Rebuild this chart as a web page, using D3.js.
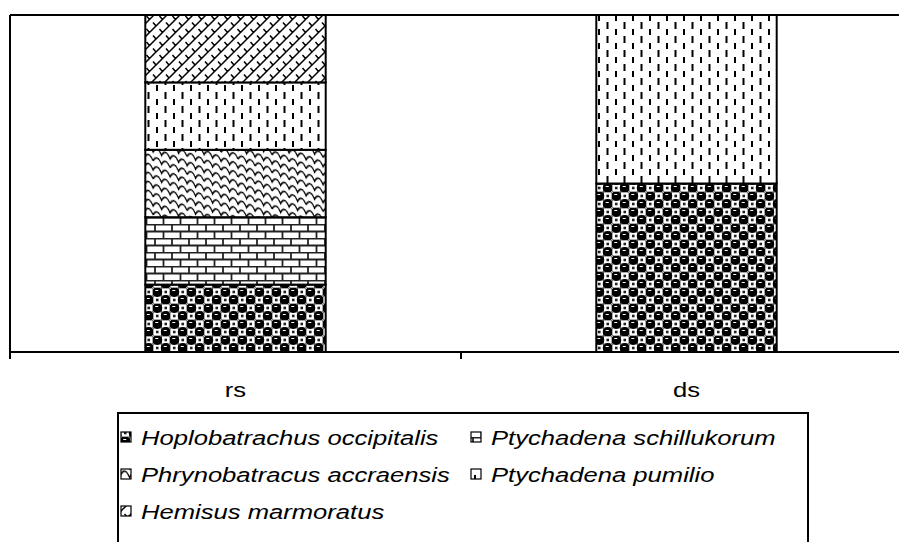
<!DOCTYPE html>
<html>
<head>
<meta charset="utf-8">
<style>
  body { margin: 0; background: #fff; }
  svg { font-family: "Liberation Sans", Arial, sans-serif; }
</style>
</head>
<body>
<script src="https://d3js.org/d3.v7.min.js"></script>
<div id="chart"></div>
<script>
// categories and species (bottom to top of each stack)
var sites = ["rs", "ds"];
var species = ["Hoplobatrachus occipitalis", "Ptychadena schillukorum",
               "Phrynobatracus accraensis", "Ptychadena pumilio", "Hemisus marmoratus"];
// percent of each site's catch, per species
var hoplobatrachus = [20, 50];
var schillukorum   = [20, 0];
var phrynobatracus = [20, 0];
var pumilio        = [20, 50];
var hemisus        = [20, 0];

var seriesValues = [hoplobatrachus, schillukorum, phrynobatracus, pumilio, hemisus];
var patternIds = ["pDots", "pBrick", "pScale", "pDash", "pDiag"];

var W = 899, H = 542;
var plot = {left: 10, top: 15, right: 912, bottom: 352};
var stretch = 1.22; // the original text is drawn wide

var svg = d3.select("#chart").append("svg")
  .attr("width", W).attr("height", H);

// ---- patterns ----
var defs = svg.append("defs");

// dark dotted checker
var pd = defs.append("pattern").attr("id", "pDots")
  .attr("patternUnits", "userSpaceOnUse").attr("width", 17).attr("height", 16);
pd.append("rect").attr("width", 17).attr("height", 16).attr("fill", "#fff");
[[12.75, 4], [4.25, 12]].forEach(function(c) {
  pd.append("rect").attr("x", c[0] - 4.25).attr("y", c[1] - 4).attr("width", 8.5).attr("height", 8)
    .attr("fill", "none").attr("stroke", "#555").attr("stroke-width", 1);
  pd.append("rect").attr("x", c[0] - 1.3).attr("y", c[1] - 1.3).attr("width", 2.6).attr("height", 2.6).attr("fill", "#222");
});
[[4.25, 4], [12.75, 12]].forEach(function(c) {
  pd.append("circle").attr("cx", c[0]).attr("cy", c[1]).attr("r", 5).attr("fill", "#000");
  pd.append("line").attr("x1", c[0] - 2).attr("x2", c[0] + 1).attr("y1", c[1] - 1.5).attr("y2", c[1] - 1.5)
    .attr("stroke", "#fff").attr("stroke-width", 1);
});

// bricks
var pb = defs.append("pattern").attr("id", "pBrick")
  .attr("patternUnits", "userSpaceOnUse").attr("width", 17).attr("height", 14);
pb.append("rect").attr("width", 17).attr("height", 14).attr("fill", "#fff");
pb.append("path")
  .attr("d", "M0,0.5H17 M0,7.5H17 M2,0V7 M10.5,7V14")
  .attr("stroke", "#222").attr("stroke-width", 1.8).attr("fill", "none");

// scales
var ps = defs.append("pattern").attr("id", "pScale")
  .attr("patternUnits", "userSpaceOnUse").attr("width", 17).attr("height", 18)
  .attr("patternTransform", "skewY(22)");
ps.append("rect").attr("x", -1).attr("y", -1).attr("width", 19).attr("height", 20).attr("fill", "#fff");
ps.append("path")
  .attr("d", "M0,9 Q4.25,0 8.5,9 Q12.75,0 17,9 M-8.5,18 Q-4.25,9 0,18 Q4.25,9 8.5,18 Q12.75,9 17,18 Q21.25,9 25.5,18 M-8.5,0 Q-4.25,-9 0,0 Q4.25,-9 8.5,0 Q12.75,-9 17,0 Q21.25,-9 25.5,0")
  .attr("stroke", "#000").attr("stroke-width", 1.4).attr("fill", "none");

// vertical dashes
var pv = defs.append("pattern").attr("id", "pDash")
  .attr("patternUnits", "userSpaceOnUse").attr("width", 17).attr("height", 14);
pv.append("rect").attr("width", 17).attr("height", 14).attr("fill", "#fff");
pv.append("path")
  .attr("d", "M4,1V7 M12.5,8V14 M12.5,0V1")
  .attr("stroke", "#000").attr("stroke-width", 2);

// diagonal brick
var pg = defs.append("pattern").attr("id", "pDiag")
  .attr("patternUnits", "userSpaceOnUse").attr("width", 13).attr("height", 13);
pg.append("rect").attr("width", 13).attr("height", 13).attr("fill", "#fff");
pg.append("path")
  .attr("d", "M0,13L13,0 M-6.5,6.5L6.5,-6.5 M6.5,19.5L19.5,6.5 M3.5,3L6.5,6.5 M10,9.5L13,13 M-3,9.5L0,13")
  .attr("stroke", "#000").attr("stroke-width", 1.5).attr("fill", "none");

// ---- scales ----
var x = d3.scaleBand().domain(sites).range([plot.left, plot.right])
  .paddingInner(0.6).paddingOuter(0.3);
var y = d3.scaleLinear().domain([0, 100]).range([plot.bottom, plot.top]);

var table = sites.map(function(s, i) {
  var row = {site: s};
  species.forEach(function(sp, j) { row[sp] = seriesValues[j][i]; });
  return row;
});
var stacked = d3.stack().keys(species)(table);

// ---- plot frame ----
svg.append("line").attr("x1", plot.left).attr("x2", W).attr("y1", plot.top).attr("y2", plot.top)
  .attr("stroke", "#000").attr("stroke-width", 2);
svg.append("line").attr("x1", plot.left).attr("x2", plot.left).attr("y1", plot.top).attr("y2", plot.bottom)
  .attr("stroke", "#000").attr("stroke-width", 2);

// ---- bars ----
svg.append("g").selectAll("g")
  .data(stacked).enter().append("g")
  .attr("fill", function(d, i) { return "url(#" + patternIds[i] + ")"; })
  .selectAll("rect")
  .data(function(d) { return d.filter(function(s) { return s[1] - s[0] > 0; }); })
  .enter().append("rect")
    .attr("x", function(d) { return x(d.data.site); })
    .attr("y", function(d) { return y(d[1]); })
    .attr("width", x.bandwidth())
    .attr("height", function(d) { return y(d[0]) - y(d[1]); })
    .attr("stroke", "#000").attr("stroke-width", 2);

// ---- x axis ----
var xa = svg.append("g");
xa.append("line").attr("x1", plot.left).attr("x2", W).attr("y1", plot.bottom).attr("y2", plot.bottom)
  .attr("stroke", "#000").attr("stroke-width", 2);
var tickPos = d3.range(sites.length + 1).map(function(i) { return plot.left + i * x.step(); });
xa.selectAll(".tk").data(tickPos).enter().append("line")
  .attr("x1", function(d) { return d; }).attr("x2", function(d) { return d; })
  .attr("y1", plot.bottom).attr("y2", plot.bottom + 7)
  .attr("stroke", "#000").attr("stroke-width", 2);
xa.selectAll("text").data(sites).enter().append("text")
  .attr("transform", function(d) {
    return "translate(" + (x(d) + x.bandwidth() / 2) + ",397) scale(" + stretch + ",1)";
  })
  .attr("text-anchor", "middle")
  .attr("font-size", "21px")
  .text(function(d) { return d; });

// ---- legend ----
var lg = svg.append("g");
lg.append("rect").attr("x", 118).attr("y", 413).attr("width", 690).attr("height", 140)
  .attr("fill", "#fff").attr("stroke", "#000").attr("stroke-width", 2);
var legPos = [[121, 437], [471, 437], [121, 474], [471, 474], [121, 511]];
var items = lg.selectAll(".li").data(species).enter().append("g")
  .attr("transform", function(d, i) { return "translate(" + legPos[i][0] + "," + legPos[i][1] + ")"; });
items.append("rect").attr("x", 0).attr("y", -5).attr("width", 10).attr("height", 10)
  .attr("fill", function(d, i) { return "url(#" + patternIds[i] + ")"; })
  .attr("stroke", "#000").attr("stroke-width", 1.2);
items.append("text")
  .attr("transform", "translate(20,7.5) scale(" + stretch + ",1)")
  .attr("font-size", "21px").attr("font-style", "italic")
  .text(function(d) { return d; });
</script>
</body>
</html>
